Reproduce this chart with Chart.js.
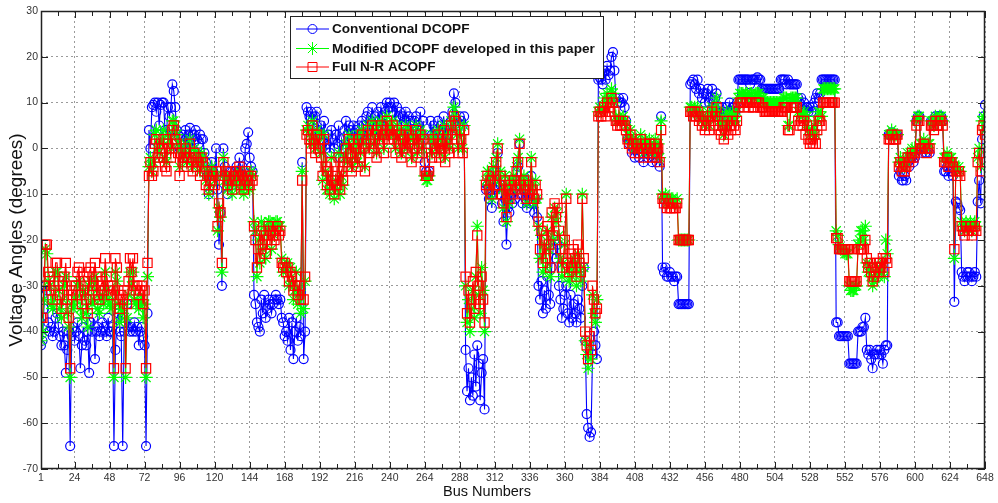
<!DOCTYPE html>
<html>
<head>
<meta charset="utf-8">
<script src="https://cdn.jsdelivr.net/npm/chart.js@4.4.0/dist/chart.umd.min.js"></script>
<style>
html,body{margin:0;padding:0;background:#fff;}
#wrap{width:998px;height:503px;position:relative;}
</style>
</head>
<body>
<div id="wrap"><canvas id="c" width="998" height="503"></canvas></div>
<script>
// ---- tick labels ----
const xTickLabels = [1,24,48,72,96,120,144,168,192,216,240,264,288,312,336,360,384,408,432,456,480,504,528,552,576,600,624,648];
const yTickLabels = [30,20,10,0,-10,-20,-30,-40,-50,-60,-70];
const seriesNames = ['Conventional DCOPF','Modified DCOPF developed in this paper','Full N-R ACOPF'];

// ---- Conventional DCOPF (bus 1..648) ----
const conventional = [
-43,-42,-35,-30,-31,-38,-40,-39,-41,-40,-37,-36,-39,-41,-43,-40,-43,-49,-44,-40,-65,-41,-39,-42,
-40,-38,-41,-48,-43,-39,-42,-43,-40,-49,-38,-40,-37,-46,-40,-39,-41,-40,-38,-39,-40,-41,-37,-40,
-40,-39,-65,-44,-37,-36,-40,-41,-65,-40,-38,-34,-39,-40,-39,-40,-38,-40,-39,-43,-40,-39,-41,-43,
-65,-36,4,0,9,9.5,10,8,10,5,9.5,10,10,4,3,9,7,9,14,12.5,9,4,3,0,
2,3,1,4,0,3,4.5,2,0,3,4,2,1,3,2,2,-1,-3,-6,-10,-5,-3,-5,-6,
0,-9,-21,-14,-30,0,-4,-6,-10,-7,-5,-8,-6,-5,-4,-5,-2,-6,-4,-7,0,1,3.5,-2,
-4,-5,-32,-34,-38,-39,-40,-33,-36,-32,-37,-35,-33,-34,-36,-34,-33,-32,-33,-34,-33,-37,-38,-41,
-40,-42,-37,-44,-38,-46,-40,-37,-42,-39,-41,-3,-46,-40,9,8,7,8,6,5,7,8,4,3,
5,2,6,0,1,3,-1,4,2,0,3,1,5,-2,2,0,4,6,3,5,4,2,5,3,
4,2,5,3,6,5,2,7,8,4,6,9,5,7,3,8,6,9,7,5,8,10,9,10,
9,8,10,6,9,7,8,5,7,6,8,4,7,6,3,5,6,7,4,5,8,3,6,-3,
-5,-6,-5,6,3,5,2,4,6,3,5,4,7,2,5,3,4,6,8,12,10,6,5,7,
6,5,7,-44,-53,-48,-55,-50,-54,-45,-52,-43,-47,-55,-49,-46,-57,-9,-8,-11,-10,-13,-7,-9,
-5,-1,-10,-8,-12,-16,-11,-21,-13,-14,-10,-12,-9,-11,-7,-4,1,-10,-12,-9,-11,-13,-10,-12,
-6,-12,-14,-11,-15,-30,-33,-29,-36,-31,-35,-28,-32,-34,-26,-22,-20,-24,-21,-30,-33,-37,-35,-32,
-30,-36,-38,-32,-37,-34,-36,-38,-33,-35,-37,-30,-26,-42,-58,-61,-63,-62,-45,-40,-43,-46,15,15.5,
15,14,17,15,18,16,17,20,21,17,11,10,11,10,10,11,9,6,2,1,2,-1,0,-2,
0,-1,-2,1,-1,-3,0,-1,-2,0,-1,-3,-2,0,-3,-1,-4,7,-26,-27,-26,-28,-28,-27,
-28,-28,-29,-28,-28,-34,-34,-34,-34,-34,-34,-34,-34,14,14.5,15,14,13,15,12,13,11,12,10,
12,13,10,11,13,9,11,12,8,9,7,9,6,8,9,8,10,8,9,9,8,10,15,15,
15,15,15,15,15,15,14,15,15,15,15,15.5,15,15,13,13,13,13,13,13,13,13,13,13,
13,13,13,15,15,15,15,14,15,14,14,14,14,14,14,11,10,11,9,10,8,9,8,9,
8,9,10,11,12,11,12,15,15,15,15,15,15,15,15,15,15,-38,-38,-41,-41,-41,-41,-41,
-41,-41,-47,-47,-47,-47,-47,-47,-40,-40,-40,-39,-39,-37,-44,-45,-44,-46,-48,-45,-45,-44,-45,-44,
-45,-47,-44,-43,-43,3,3,3.5,3,3,3,3,-6,-5,-7,-7,-6,-7,-3,-4,-2,-2,-3,-2,
6,7,7,0,-1,0,-1,-1,0,-1,6,6,5,7,6,7,7,7,6,-5,-5,-4,-6,-5,
-5,-6,-33.5,-11.6,-12,-13,-13.5,-27,-28,-29,-28,-27,-27,-28,-29,-28,-27,-28,-11.6,-7,-12,2,7,9.5
];

// ---- Modified DCOPF (bus 1..648) ----
const modified = [
-42,-40,-33,-22,-23,-29,-30,-34,-35,-33,-27,-27,-31,-35,-37,-33,-30,-28,-36,-39,-50,-34,-35,-33,
-33,-30,-29,-35,-37,-31,-32,-36,-39,-30,-29,-34,-33,-28,-31,-35,-36,-33,-32,-34,-27,-31,-33,-34,
-35,-33,-50,-27,-29,-34,-38,-35,-36,-34,-50,-37,-32,-27,-30,-27,-33,-34,-33,-35,-34,-33,-37,-34,
-50,-28,-4,-2,-5,-3,3,4,0,-1,1,2,4,-2,-3,3,2,0,6,6,4,3,1,-4,
0,-2,-1,1,-3,-1,2,-2,-4,0,-1,-3,-2,-5,-1,-2,-4,-7,-5,-10,-8,-4,-5,-7,
-6,-18,-13,-15,-27,-2,-7,-6,-9,-8,-6,-10,-7,-8,-6,-7,-5,-9,-7,-10,-6,-8,-7,-9,
-5,-6,-16,-18,-28,-20,-25,-16,-22,-17,-24,-18,-16,-16,-22,-17,-19,-16,-16,-17,-17,-24,-27,-26,
-26,-25,-30,-26,-29,-33,-31,-27,-34,-31,-36,-5,-35,-29,4,5,3,1,6,2,0,4,1,3,
-1,-7,3,-5,-9,-6,-10,-2,-8,-11,-7,-9,-1,-10,-6,-8,-2,1,-3,3,0,-4,2,-2,
1,-3,3,-1,4,1,-4,2,5,0,3,6,1,4,-1,5,2,6,3,0,4,7,3,5,
4,6,3,0,5,2,4,-1,3,1,5,0,4,2,-2,3,1,5,-1,2,4,0,3,-6,
-7,-7,-6,2,-1,3,1,0,4,-1,2,1,5,-2,3,1,0,6,4,9,7,3,0,5,
3,0,5,-30,-38,-33,-40,-35,-31,-37,-28,-17,-32,-36,-26,-31,-40,-7,-5,-8,-6,-11,-4,-7,
-2,1,-7,-5,-9,-13,-6,-16,-8,-12,-7,-9,-6,-8,-4,-2,2,-7,-9,-6,-8,-12,-7,-9,
-2,-8,-12,-7,-11,-17,-24,-19,-27,-21,-26,-18,-22,-28,-15,-20,-13,-16,-14,-19,-24,-28,-25,-21,
-10,-27,-29,-25,-28,-24,-26,-30,-23,-27,-29,-10,-26,-42,-45,-48,-43,-46,-32,-36,-38,-33,8,9,
8,9,11,9,12,10,11,13,12,10,7,6,7,6,6,7,6,5,3,2,4,1,2,0,
2,1,0,3,1,-1,2,1,0,2,1,-1,0,2,-1,1,-2,6,-10,-11,-10,-12,-11,-12,
-11,-11,-12,-12,-11,-20,-20,-20,-20,-20,-20,-20,-20,9,9,8,9,8,9,7,8,6,7,5,
6,8,5,7,9,7,9,11,8,6,5,7,3,6,8,5,7,6,8,7,6,8,11,12,
12,12,11,12,12,11,12,12,11,11,12,12,12,11,11,11,10,10,10,10,10,10,10,10,
10,10,10,10,10,11,11,11,5,5,11,11,11,11,11,8,7,8,7,8,5,7,4,3,
4,3,5,3,6,8,8,7,13,13,13,13,13,13,13,13,13,-18,-19,-21,-22,-22,-22,-23,
-23,-23,-30,-31,-31,-31,-30,-30,-21,-20,-18,-18,-20,-17,-25,-27,-26,-28,-30,-29,-27,-26,-28,-26,
-27,-25,-28,-20,-23,3,3,4,3,3,3,3,-3,-2,-4,-3,-4,-3,-1,-2,-1,0,-1,0,
6,7,7,1,1,2,1,0,1,1,6,6,5,7,6,6,7,7,6,-2,-2,-1,-3,-2,
-2,-3,-24,-4,-5,-4,-5,-16,-17,-18,-16,-17,-17,-16,-18,-17,-16,-17,-2,0,-4,6,7,4
];

// ---- Full N-R ACOPF (bus 1..648) ----
const fullAC = [
-37,-37,-30,-21,-21,-27,-28,-31,-33,-30,-25,-25,-29,-32,-35,-30,-28,-25,-33,-37,-48,-31,-32,-30,
-30,-27,-26,-32,-34,-28,-29,-33,-36,-27,-26,-31,-30,-25,-28,-32,-33,-30,-29,-31,-24,-28,-30,-31,
-32,-30,-48,-24,-26,-31,-35,-32,-33,-31,-48,-34,-29,-24,-27,-24,-30,-31,-30,-32,-31,-30,-34,-31,
-48,-25,-6,-3,-6,-5,1,2,-2,-3,-1,0,2,-4,-5,1,0,-2,4,5,2,1,-1,-6,
-1,-3,-2,0,-4,-2,1,-3,-5,-1,-2,-4,-3,-6,-2,-3,-5,-8,-6,-9,-7,-5,-6,-8,
-5,-17,-12,-14,-25,-3,-6,-5,-8,-7,-5,-9,-6,-7,-5,-6,-4,-8,-6,-9,-5,-7,-6,-8,
-6,-7,-17,-20,-26,-22,-24,-18,-21,-19,-23,-20,-17,-18,-21,-19,-20,-18,-17,-19,-18,-25,-26,-25,
-27,-26,-29,-27,-28,-31,-30,-28,-32,-30,-33,-7,-33,-28,3,4,2,0,5,1,-1,3,0,2,
-2,-6,2,-4,-8,-5,-9,-3,-7,-10,-6,-8,-2,-9,-5,-7,-3,0,-4,2,-1,-5,1,-3,
0,-4,2,-2,3,0,-5,1,4,-1,2,5,0,3,-2,4,1,5,2,-1,3,6,2,4,
3,5,2,-1,4,1,3,-2,2,0,4,-1,3,1,-3,2,0,4,-2,1,3,-1,2,-5,
-6,-6,-5,1,-2,2,0,-1,3,-2,1,0,4,-3,2,0,-1,5,3,7,6,2,-1,4,
2,-1,4,-28,-36,-31,-38,-33,-29,-35,-27,-19,-30,-34,-28,-33,-38,-8,-6,-9,-7,-10,-5,-8,
-3,0,-8,-6,-10,-12,-7,-15,-9,-11,-8,-10,-7,-9,-5,-3,1,-8,-10,-7,-9,-11,-8,-10,
-3,-9,-11,-8,-10,-16,-22,-18,-25,-20,-24,-17,-21,-26,-14,-19,-12,-15,-13,-18,-22,-26,-24,-20,
-11,-25,-27,-23,-26,-22,-24,-28,-21,-25,-27,-11,-24,-40,-43,-46,-41,-44,-30,-33,-36,-35,7,8,
7,8,9,7,10,8,9,11,10,8,6,5,6,5,5,6,5,4,2,1,3,0,1,-1,
1,0,-1,2,0,-2,1,0,-1,1,0,-2,-1,1,-2,0,-3,4,-11,-12,-11,-13,-12,-13,
-13,-12,-13,-13,-12,-20,-20,-20,-20,-20,-20,-20,-20,8,8,7,8,7,8,6,7,5,6,4,
5,7,4,6,8,5,7,9,6,4,3,5,2,4,6,3,5,4,6,5,4,6,9,10,
10,10,9,10,10,9,10,10,9,9,10,10,10,9,9,9,8,8,8,8,8,8,8,8,
8,8,8,8,8,9,9,9,4,4,9,9,9,9,9,6,5,6,5,6,3,5,2,1,
2,1,3,1,4,6,6,5,10,10,10,10,10,10,10,10,10,-19.6,-19.6,-22,-22,-22,-22,-22,
-22,-22,-29,-29,-29,-29,-29,-29,-22,-22,-22,-22,-22,-20,-24,-26,-25,-27,-29,-28,-26,-25,-27,-25,
-26,-24,-27,-24,-25,2,2,3,2,2,2,3,-4,-3,-5,-4,-5,-4,-2,-3,-2,-1,-2,-1,
5,6,6,0,0,1,0,-1,0,0,5,5,4,6,5,5,6,6,5,-3,-3,-2,-4,-3,
-3,-4,-22,-5,-6,-5,-6,-17,-18,-19,-17,-18,-18,-17,-19,-18,-17,-18,-3,-1,-5,4,5,3
];

[conventional, modified, fullAC].forEach((a, k) => {
  if (a.length !== 648) throw new Error('series ' + k + ' has ' + a.length + ' values');
});

const toPoints = arr => arr.map((v, i) => ({ x: i + 1, y: v }));
const FONT = "'Liberation Sans', Arial, sans-serif";

const styles = [
  { color: '#0000ff', pointStyle: 'circle', radius: 4.5 },
  { color: '#00ff00', pointStyle: 'star', radius: 6.5 },
  { color: '#ff0000', pointStyle: 'rect', radius: 6.5 }
];

const framePlugin = {
  id: 'framePlugin',
  afterDraw(chart) {
    const { ctx, chartArea: a, scales: { x, y } } = chart;
    ctx.save();
    ctx.strokeStyle = '#222';
    ctx.lineWidth = 1;
    ctx.beginPath();
    const drawXT = (v, len) => {
      const px = Math.round(x.getPixelForValue(v)) + 0.5;
      ctx.moveTo(px, a.bottom); ctx.lineTo(px, a.bottom - len);
      ctx.moveTo(px, a.top); ctx.lineTo(px, a.top + len);
    };
    xTickLabels.forEach((v, i) => {
      drawXT(v, 7);
      if (i > 0) drawXT((xTickLabels[i - 1] + v) / 2, 5);
    });
    yTickLabels.forEach(v => {
      const py = Math.round(y.getPixelForValue(v)) + 0.5;
      ctx.moveTo(a.left, py); ctx.lineTo(a.left + 7, py);
      ctx.moveTo(a.right, py); ctx.lineTo(a.right - 7, py);
    });
    ctx.stroke();
    ctx.lineWidth = 1.5;
    ctx.strokeStyle = '#222';
    ctx.strokeRect(a.left + 0.5, a.top + 0.5, a.right - a.left - 1, a.bottom - a.top - 1);

    // x axis title
    ctx.fillStyle = '#111';
    ctx.font = '14.5px ' + FONT;
    ctx.textAlign = 'center';
    ctx.textBaseline = 'middle';
    ctx.fillText('Bus Numbers', 487, 492);

    // legend
    const lx = 290, ly = 16, lw = 313, lh = 62;
    ctx.fillStyle = '#fff';
    ctx.fillRect(lx, ly, lw, lh);
    ctx.lineWidth = 1;
    ctx.strokeStyle = '#222';
    ctx.strokeRect(lx + 0.5, ly + 0.5, lw, lh);
    const rows = [29, 48.5, 67];
    ctx.font = 'bold 13.6px ' + FONT;
    ctx.textAlign = 'left';
    ctx.textBaseline = 'middle';
    styles.forEach((s, i) => {
      const ry = rows[i];
      ctx.strokeStyle = s.color;
      ctx.lineWidth = 1;
      ctx.beginPath();
      ctx.moveTo(296, ry); ctx.lineTo(329, ry);
      ctx.stroke();
      const cx = 312.5;
      ctx.beginPath();
      if (s.pointStyle === 'circle') {
        ctx.arc(cx, ry, 4.5, 0, Math.PI * 2);
      } else if (s.pointStyle === 'rect') {
        ctx.rect(cx - 4.5, ry - 4.5, 9, 9);
      } else {
        const r = 6.5;
        ctx.moveTo(cx - r, ry); ctx.lineTo(cx + r, ry);
        ctx.moveTo(cx, ry - r); ctx.lineTo(cx, ry + r);
        const d = r * Math.SQRT1_2;
        ctx.moveTo(cx - d, ry - d); ctx.lineTo(cx + d, ry + d);
        ctx.moveTo(cx - d, ry + d); ctx.lineTo(cx + d, ry - d);
      }
      ctx.stroke();
      ctx.fillStyle = '#111';
      ctx.fillText(seriesNames[i], 332, ry + 0.5);
    });
    ctx.restore();
  }
};

const datasets = [conventional, modified, fullAC].map((arr, i) => ({
  label: seriesNames[i],
  data: toPoints(arr),
  borderColor: styles[i].color,
  backgroundColor: 'transparent',
  borderWidth: 1.1,
  pointStyle: styles[i].pointStyle,
  pointRadius: styles[i].radius,
  pointBorderWidth: 1.2,
  pointBorderColor: styles[i].color,
  pointBackgroundColor: 'transparent',
  tension: 0,
  fill: false,
  order: 3 - i
}));

new Chart(document.getElementById('c'), {
  type: 'line',
  data: { datasets },
  options: {
    responsive: false,
    animation: false,
    devicePixelRatio: 1,
    layout: { padding: { left: 0, top: 11, right: 13, bottom: 0 } },
    plugins: { legend: { display: false }, tooltip: { enabled: false } },
    scales: {
      x: {
        type: 'linear', min: 1, max: 648,
        afterBuildTicks: s => { s.ticks = xTickLabels.map(v => ({ value: v })); },
        afterFit: s => { s.height = 34; },
        grid: { color: '#9a9a9a', lineWidth: 1, drawTicks: false },
        border: { display: false, dash: [2, 3] },
        ticks: { font: { family: FONT, size: 10.5 }, color: '#333', padding: 3, maxRotation: 0, autoSkip: false, callback: v => String(v) }
      },
      y: {
        min: -70, max: 30,
        afterBuildTicks: s => { s.ticks = yTickLabels.map(v => ({ value: v })); },
        afterFit: s => { s.width = 41; },
        grid: { color: '#9a9a9a', lineWidth: 1, drawTicks: false },
        border: { display: false, dash: [2, 3] },
        ticks: { font: { family: FONT, size: 10.5 }, color: '#333', padding: 3, callback: v => String(v) },
        title: { display: true, text: 'Voltage Angles (degrees)', font: { family: FONT, size: 19 }, color: '#111', padding: { top: 5, bottom: 0 } }
      }
    }
  },
  plugins: [framePlugin]
});
</script>
</body>
</html>
